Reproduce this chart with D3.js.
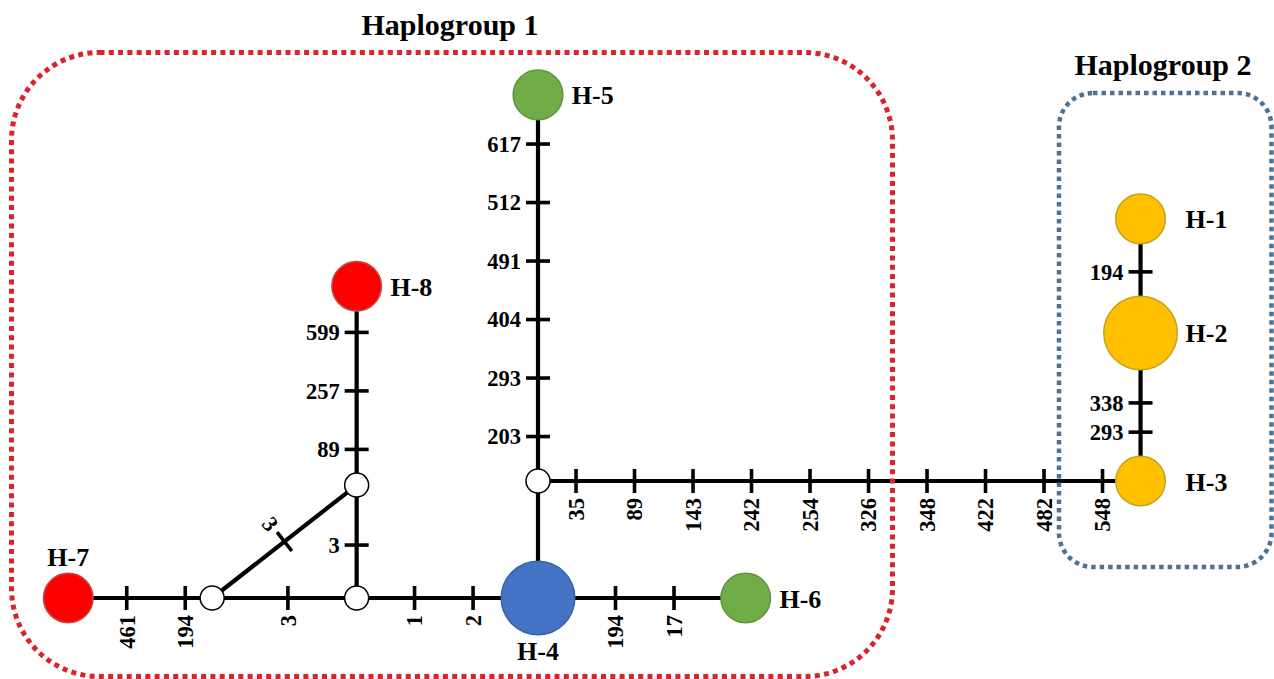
<!DOCTYPE html>
<html>
<head>
<meta charset="utf-8">
<script src="https://cdn.jsdelivr.net/npm/d3@7"></script>
<style>
  html, body { margin: 0; padding: 0; background: #fff; }
  svg { display: block; }
  text { font-family: "Liberation Serif", "Times New Roman", serif; font-weight: bold; fill: #000; }
</style>
</head>
<body>
<svg id="chart" width="1274" height="679"></svg>
<script>
// ---------- data ----------
const haplotypes   = ["H-1", "H-2", "H-3", "H-4", "H-5", "H-6", "H-7", "H-8"];
const haplogroup   = [2, 2, 2, 1, 1, 1, 1, 1];
const frequency    = [1, 2.2, 1, 2.2, 1, 1, 1, 1];
const hapColour    = ["yellow", "yellow", "yellow", "blue", "green", "green", "red", "red"];
const labelPlace   = ["right", "right", "right", "below", "right", "right", "above", "right"];
const medianVectors = ["mv1", "mv2", "mv3", "mv4"];
const groupTitles  = ["Haplogroup 1", "Haplogroup 2"];

// network layout in mutation-step units (origin at median vector mv1)
const layoutX = { "H-1": 10.3, "H-2": 10.3, "H-3": 10.3, "H-4": 0, "H-5": 0, "H-6": 3.55,
                  "H-7": -8.03, "H-8": -3.1, mv1: 0, mv2: -5.57, mv3: -3.1, mv4: -3.1 };
const layoutY = { "H-1": -4.48, "H-2": -2.53, "H-3": 0, "H-4": 2, "H-5": -6.6, "H-6": 2,
                  "H-7": 2, "H-8": -3.33, mv1: 0, mv2: 2, mv3: 2, mv4: 0.07 };

const edgeSource = ["mv1", "mv1", "mv1", "H-4", "mv3", "mv2", "H-7", "mv3", "mv4", "mv2", "H-1", "H-2"];
const edgeTarget = ["H-5", "H-3", "H-4", "H-6", "H-4", "mv3", "mv2", "mv4", "H-8", "mv4", "H-2", "H-3"];
const edgeMutations = [
  ["203", "293", "404", "491", "512", "617"],
  ["35", "89", "143", "242", "254", "326", "348", "422", "482", "548"],
  [],
  ["194", "17"],
  ["1", "2"],
  ["3"],
  ["461", "194"],
  ["3"],
  ["89", "257", "599"],
  ["3"],
  ["194"],
  ["338", "293"]
];
const tickSpacing = [1, 1, 1, 1, 1, 1, 1, 1, 1, 1, 1, 0.5];
const tickShift   = [-0.04, 0, 0, 0.05, -0.06, 0.06, 0.27, -0.06, -0.09, 0, -0.07, 0.18];
const labelSide   = [-1, 1, 1, 1, 1, 1, 1, -1, -1, -1, 1, 1];

// ---------- styles ----------
const fillOf   = { yellow: "#ffc000", blue: "#4472c4", green: "#70ad47", red: "#ff0000" };
const strokeOf = { yellow: "#c9a01c", blue: "#3b63a8", green: "#5f9440", red: "#c44a4a" };

const svg = d3.select("#chart");
const x = d3.scaleLinear().domain([0, 1]).range([538, 596.5]);
const y = d3.scaleLinear().domain([0, 1]).range([481, 539.5]);
const r = d3.scaleSqrt().domain([0, 1]).range([0, 24.8]);
const stepPx = x(1) - x(0);

const pos = name => ({ x: x(layoutX[name]), y: y(layoutY[name]) });

// ---------- edges ----------
const edges = edgeSource.map((s, i) => {
  const a = pos(s), b = pos(edgeTarget[i]);
  const len = Math.hypot(b.x - a.x, b.y - a.y);
  const d = { x: (b.x - a.x) / len, y: (b.y - a.y) / len };
  return { a, b, len, d, muts: edgeMutations[i], sp: tickSpacing[i], sh: tickShift[i], side: labelSide[i] };
});

const gEdges = svg.append("g");
gEdges.selectAll("line.edge").data(edges).join("line")
  .attr("x1", e => e.a.x).attr("y1", e => e.a.y)
  .attr("x2", e => e.b.x).attr("y2", e => e.b.y)
  .attr("stroke", "#000").attr("stroke-width", 4.2);

const ticks = [];
edges.forEach(e => {
  const n = e.muts.length;
  e.muts.forEach((m, k) => {
    const off = e.len / 2 + ((k - (n - 1) / 2) * e.sp + e.sh) * stepPx;
    const px = e.a.x + e.d.x * off, py = e.a.y + e.d.y * off;
    const nx = -e.d.y * e.side, ny = e.d.x * e.side;
    ticks.push({ label: m, px, py, nx, ny, d: e.d });
  });
});

gEdges.selectAll("line.tick").data(ticks).join("line")
  .attr("x1", t => t.px - t.nx * 12).attr("y1", t => t.py - t.ny * 12)
  .attr("x2", t => t.px + t.nx * 12).attr("y2", t => t.py + t.ny * 12)
  .attr("stroke", "#000").attr("stroke-width", 3.6);

gEdges.selectAll("text.mut").data(ticks).join("text")
  .attr("font-size", 22.5)
  .attr("text-anchor", "end")
  .attr("dy", "0.35em")
  .attr("transform", t => {
    const lx = t.px + t.nx * 17, ly = t.py + t.ny * 17;
    const ang = Math.atan2(-t.ny, -t.nx) * 180 / Math.PI;
    return `translate(${lx},${ly}) rotate(${ang})`;
  })
  .text(t => t.label);

// ---------- haplogroup boxes ----------
svg.append("rect")
  .attr("x", 11.5).attr("y", 52.5).attr("width", 881).attr("height", 624)
  .attr("rx", 88).attr("ry", 88)
  .attr("fill", "none").attr("stroke", "#d8242b").attr("stroke-width", 5)
  .attr("stroke-dasharray", "5 4.3");
svg.append("rect")
  .attr("x", 1059).attr("y", 93).attr("width", 212.5).attr("height", 474)
  .attr("rx", 34).attr("ry", 34)
  .attr("fill", "none").attr("stroke", "#4c7294").attr("stroke-width", 4.5)
  .attr("stroke-dasharray", "4.5 4");

// ---------- nodes ----------
svg.append("g").selectAll("circle").data(medianVectors).join("circle")
  .attr("cx", m => pos(m).x).attr("cy", m => pos(m).y).attr("r", 12)
  .attr("fill", "#fff").attr("stroke", "#000").attr("stroke-width", 1.5);

const hapData = haplotypes.map((h, i) => ({
  name: h, group: haplogroup[i], rad: r(frequency[i]), col: hapColour[i], place: labelPlace[i], ...pos(h)
}));

svg.append("g").selectAll("circle").data(hapData).join("circle")
  .attr("cx", d => d.x).attr("cy", d => d.y).attr("r", d => d.rad)
  .attr("fill", d => fillOf[d.col]).attr("stroke", d => strokeOf[d.col]).attr("stroke-width", 1.5);

svg.append("g").selectAll("text").data(hapData).join("text")
  .attr("font-size", 26)
  .attr("text-anchor", d => d.place === "right" ? "start" : "middle")
  .attr("x", d => d.place === "right" ? (d.group === 2 ? d.x + 45 : d.x + d.rad + 9) : d.x)
  .attr("y", d => d.place === "right" ? d.y + 9.5 : d.place === "above" ? d.y - d.rad - 7 : d.y + d.rad + 25)
  .text(d => d.name);

// ---------- titles ----------
svg.append("text").attr("font-size", 30).attr("text-anchor", "middle")
  .attr("x", 450).attr("y", 35).text(groupTitles[0]);
svg.append("text").attr("font-size", 30).attr("text-anchor", "middle")
  .attr("x", 1163).attr("y", 75).text(groupTitles[1]);
</script>
</body>
</html>
